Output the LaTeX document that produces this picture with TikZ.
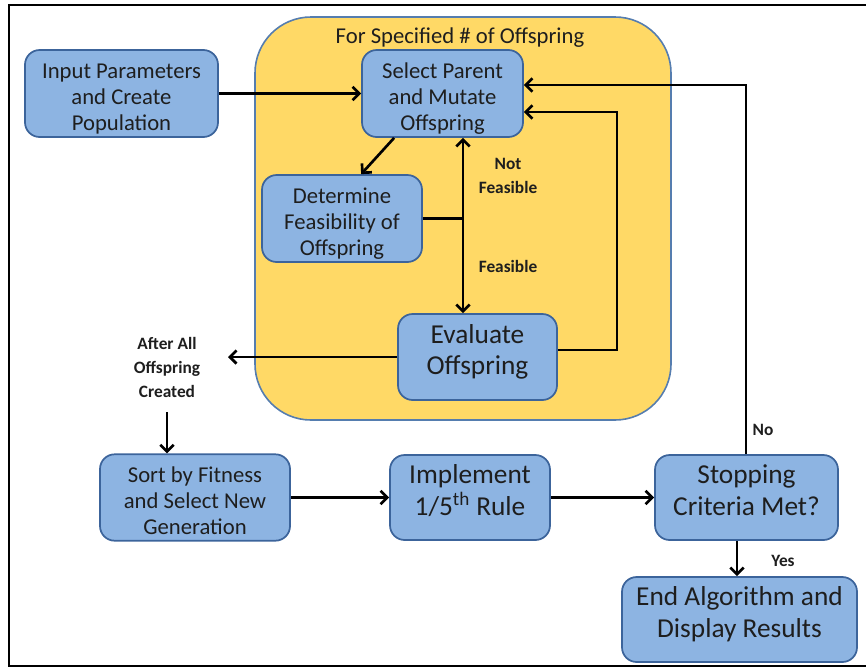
\documentclass[tikz,border=0pt]{standalone}
\usepackage{fontspec}
\setmainfont{Carlito}
\usetikzlibrary{arrows.meta}
\definecolor{boxfill}{RGB}{141,180,226}
\definecolor{boxline}{RGB}{60,100,155}
\definecolor{yel}{RGB}{255,217,102}
\definecolor{yelline}{RGB}{85,125,175}
\definecolor{txt}{RGB}{30,30,30}
\newcommand{\myStop}{\rule{0pt}{20.8pt}}
\newcommand{\mySbot}{\rule[-5pt]{0pt}{5pt}}
\newcommand{\myBtop}{\rule{0pt}{16pt}}
\newcommand{\myBbot}{\rule[-13.2pt]{0pt}{13.2pt}}
\begin{document}
\begin{tikzpicture}[x=0.75pt,y=-0.75pt,
  box/.style={draw=boxline, line width=1.3pt, fill=boxfill, rounded corners=11pt,
    align=center, inner sep=0pt, text=txt},
  smalltxt/.style={font=\fontsize{17}{19.5}\selectfont},
  bigtxt/.style={font=\fontsize{20.5}{23.5}\selectfont},
  lbl/.style={align=center, inner sep=0pt, text=txt, font=\fontsize{13}{18}\selectfont\bfseries},
  arr/.style={line width=2pt, -{Straight Barb[length=5pt,width=10pt,line width=2pt]}},
  ln/.style={line width=2pt}]
\useasboundingbox (0,0) rectangle (866,668);
% outer frame
\draw[line width=1.5pt] (866,5) -- (9,5) -- (9,666) -- (866,666);
% yellow container
\draw[draw=yelline, line width=1.2pt, fill=yel, rounded corners=42pt] (255,17) rectangle (671,420);
\node[font=\fontsize{17}{20.5}\selectfont, text=txt] (title) at (460,38) {For Specified \# of Offspring};
% boxes
\node[box, smalltxt, minimum width=144.75pt, minimum height=65.25pt] (inp) at (121.5,93.5) {\myStop Input Parameters\\and Create\\Population\mySbot};
\node[box, smalltxt, minimum width=120.75pt, minimum height=65.25pt] (sel) at (442.5,93.5) {\myStop Select Parent\\and Mutate\\Offspring\mySbot};
\node[box, smalltxt, minimum width=120pt, minimum height=65.25pt] (det) at (342,218.5) {\myStop Determine\\Feasibility of\\Offspring\mySbot};
\node[box, bigtxt, minimum width=119.25pt, minimum height=64.5pt] (eva) at (477.5,357) {\myBtop Evaluate\\Offspring\myBbot};
\node[box, smalltxt, minimum width=142.5pt, minimum height=63.75pt] (sort) at (195,497.5) {\myStop Sort by Fitness\\and Select New\\Generation\mySbot};
\node[box, bigtxt, minimum width=120pt, minimum height=63.75pt] (imp) at (470,497.5) {\myBtop Implement\\1/5\textsuperscript{th} Rule\myBbot};
\node[box, bigtxt, minimum width=137.25pt, minimum height=63.75pt] (stop) at (746.5,497.5) {\myBtop Stopping\\Criteria Met?\myBbot};
\node[box, bigtxt, minimum width=176.25pt, minimum height=63.75pt] (endn) at (739.5,619.5) {\myBtop End Algorithm and\\Display Results\myBbot};
% labels
\node[lbl] (nf) at (508,176) {Not\\Feasible};
\node[lbl] (fe) at (508,266) {Feasible};
\node[lbl] (after) at (167,367) {After All\\Offspring\\Created};
\node[lbl] (no) at (763,430) {No};
\node[lbl] (yes) at (783,561) {Yes};
% coordinates
\coordinate (j) at (463,218.5);
\coordinate (r1) at (617,112);
\coordinate (r2) at (746,85);
\coordinate (atip) at (228,357);
\coordinate (adown) at (167,412);
% connectors
\draw[arr] (inp.east) -- (sel.west);
\draw[arr] ([xshift=24.75pt]sel.south west) -- ([xshift=75pt]det.north west);
\draw[ln] (det.east) -- (j);
\draw[arr] (j) -- (sel.south -| j);
\draw[arr] (j) -- (eva.north -| j);
\draw[arr] (eva.east |- 0,350) -| (r1) -- (sel.east |- r1);
\draw[arr] (eva.west) -- (atip);
\draw[arr] (adown) -- (sort.north -| adown);
\draw[arr] (sort.east) -- (imp.west);
\draw[arr] (imp.east) -- (stop.west);
\draw[arr] (stop.north -| r2) -- (r2) -- (sel.east |- r2);
\draw[arr] (stop.south -| 737,0) -- (endn.north -| 737,0);
\end{tikzpicture}
\end{document}
